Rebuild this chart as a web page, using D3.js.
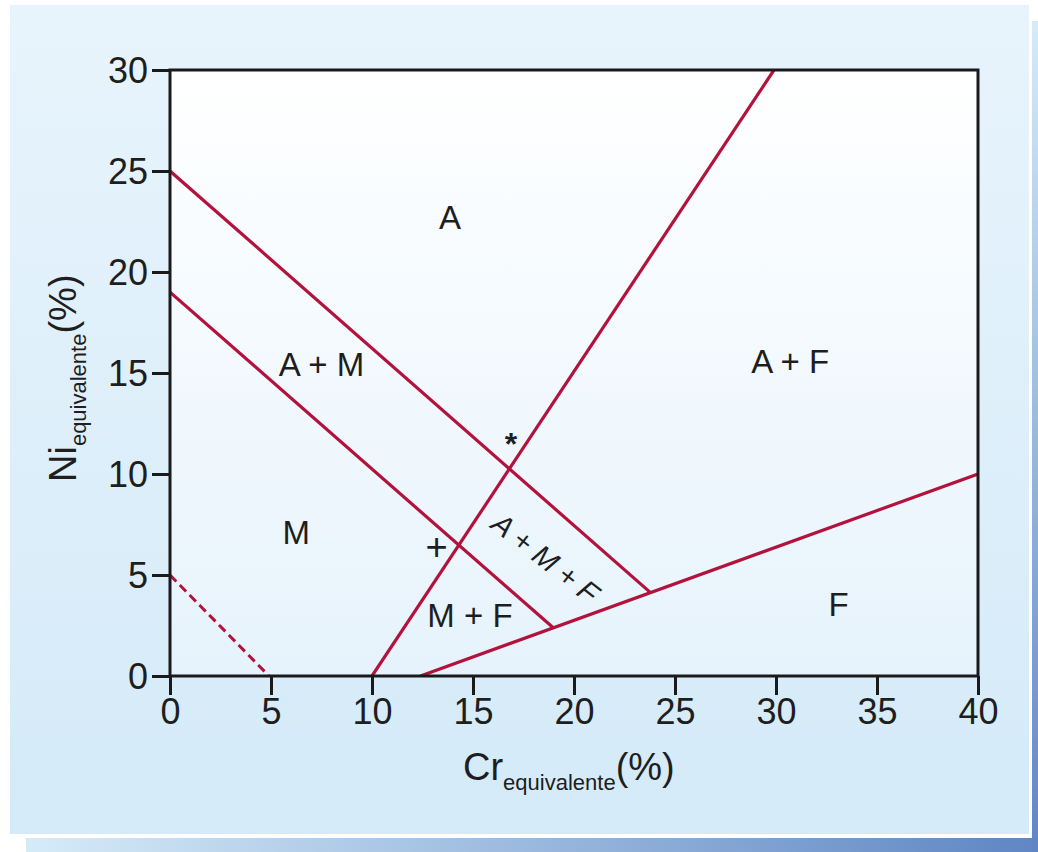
<html>
<head>
<meta charset="utf-8">
<title>Diagrama de Schaeffler</title>
<style>
  body { margin: 0; background: #ffffff; }
  svg { display: block; }
  text { font-family: 'Liberation Sans', Arial, sans-serif; fill: #1e1e1e; }
</style>
</head>
<body>
<div id="chart"></div>
<script src="https://cdnjs.cloudflare.com/ajax/libs/d3/7.8.5/d3.min.js"></script>
<script>
// Data
const xTicks = [0, 5, 10, 15, 20, 25, 30, 35, 40];
const yTicks = [0, 5, 10, 15, 20, 25, 30];

// phase boundaries, [Cr_eq, Ni_eq]
const lineAplusM = [[0, 25], [23.76, 4.15]];
const lineMart = [[0, 19], [18.96, 2.4]];
const lineFerr = [[10, 0], [29.9, 30]];
const lineF = [[12.4, 0], [40, 10]];
const lineDashed = [[0, 5], [4.9, 0]];

const regionLabels = [
  { t: "A", x: 13.86, y: 22.7 },
  { t: "A + M", x: 7.5, y: 15.45 },
  { t: "A + F", x: 30.7, y: 15.6 },
  { t: "M", x: 6.25, y: 7.1 },
  { t: "M + F", x: 14.85, y: 3.0 },
  { t: "F", x: 33.1, y: 3.55 }
];

(function () {
  const W = 1038, H = 852

  const svg = d3.select("#chart").append("svg")
    .attr("width", W)
    .attr("height", H)

  const defs = svg.append("defs")
  const g1 = defs.append("linearGradient").attr("id", "panelGrad")
    .attr("x1", 0).attr("y1", 0).attr("x2", 0).attr("y2", 1)
  g1.append("stop").attr("offset", "0%").attr("stop-color", "#e8f4fc")
  g1.append("stop").attr("offset", "100%").attr("stop-color", "#d4eaf8")

  const g2 = defs.append("linearGradient").attr("id", "plotGrad")
    .attr("x1", 0).attr("y1", 0).attr("x2", 0).attr("y2", 1)
  g2.append("stop").attr("offset", "0%").attr("stop-color", "#ffffff")
  g2.append("stop").attr("offset", "100%").attr("stop-color", "#e6f3fc")

  const g3 = defs.append("linearGradient").attr("id", "shadowR")
    .attr("x1", 0).attr("y1", 0).attr("x2", 0).attr("y2", 1)
  g3.append("stop").attr("offset", "0%").attr("stop-color", "#d6ebf8")
  g3.append("stop").attr("offset", "100%").attr("stop-color", "#5f86c4")

  const g4 = defs.append("linearGradient").attr("id", "shadowB")
    .attr("x1", 0).attr("y1", 0).attr("x2", 1).attr("y2", 0)
  g4.append("stop").attr("offset", "0%").attr("stop-color", "#d6ebf8")
  g4.append("stop").attr("offset", "100%").attr("stop-color", "#5f86c4")

  // Panel and shadow
  svg.append("rect").attr("x", 1032).attr("y", 21).attr("width", 6).attr("height", 831).attr("fill", "url(#shadowR)")
  svg.append("rect").attr("x", 26).attr("y", 838).attr("width", 1012).attr("height", 14).attr("fill", "url(#shadowB)")
  svg.append("rect").attr("x", 10).attr("y", 5).attr("width", 1019).attr("height", 829).attr("fill", "url(#panelGrad)")

  // Scales
  const x = d3.scaleLinear().domain([0, 40]).range([170, 978])
  const y = d3.scaleLinear().domain([0, 30]).range([676, 70])

  svg.append("rect")
    .attr("x", x(0)).attr("y", y(30))
    .attr("width", x(40) - x(0)).attr("height", y(0) - y(30))
    .attr("fill", "url(#plotGrad)")

  // Axes
  const xAxis = svg.append("g")
    .attr("transform", `translate(0,${y(0)})`)
    .call(d3.axisBottom(x).tickValues(xTicks).tickSize(19).tickSizeOuter(0).tickPadding(3))
  const yAxis = svg.append("g")
    .attr("transform", `translate(${x(0)},0)`)
    .call(d3.axisLeft(y).tickValues(yTicks).tickSize(18).tickSizeOuter(0).tickPadding(4))

  ;[xAxis, yAxis].forEach(a => {
    a.select(".domain").remove()
    a.selectAll(".tick line").attr("stroke", "#1a1a1a").attr("stroke-width", 3)
    a.selectAll(".tick text")
      .attr("font-family", "'Liberation Sans', Arial, sans-serif")
      .attr("font-size", 36)
      .attr("fill", "#1e1e1e")
  })
  yAxis.selectAll(".tick text").attr("dy", "0.35em")

  // Boundary lines
  const line = d3.line().x(d => x(d[0])).y(d => y(d[1]))
  const clip = defs.append("clipPath").attr("id", "plotClip")
  clip.append("rect").attr("x", x(0)).attr("y", y(30))
    .attr("width", x(40) - x(0)).attr("height", y(0) - y(30))

  const lines = svg.append("g").attr("clip-path", "url(#plotClip)")
  ;[lineAplusM, lineMart, lineFerr, lineF].forEach(pts => {
    lines.append("path")
      .attr("d", line(pts))
      .attr("fill", "none")
      .attr("stroke", "#b3123c")
      .attr("stroke-width", 3.2)
  })
  lines.append("path")
    .attr("d", line(lineDashed))
    .attr("fill", "none")
    .attr("stroke", "#b3123c")
    .attr("stroke-width", 3)
    .attr("stroke-dasharray", "9,5")

  // Frame
  svg.append("rect")
    .attr("x", x(0)).attr("y", y(30))
    .attr("width", x(40) - x(0)).attr("height", y(0) - y(30))
    .attr("fill", "none")
    .attr("stroke", "#1a1a1a")
    .attr("stroke-width", 3)

  // Region labels
  svg.selectAll(".region")
    .data(regionLabels)
    .join("text")
    .attr("class", "region")
    .attr("x", d => x(d.x))
    .attr("y", d => y(d.y))
    .attr("dy", "0.36em")
    .attr("text-anchor", "middle")
    .attr("font-size", 33)
    .text(d => d.t)

  // markers at the line crossings
  svg.append("text")
    .attr("x", x(13.2)).attr("y", y(6.4))
    .attr("dy", "0.36em")
    .attr("text-anchor", "middle")
    .attr("font-size", 38)
    .text("+")

  svg.append("text")
    .attr("x", x(16.88)).attr("y", y(11.85))
    .attr("dy", "0.58em")
    .attr("text-anchor", "middle")
    .attr("font-size", 32)
    .attr("font-weight", "bold")
    .text("*")

  svg.append("text")
    .attr("transform", `translate(${x(18.6)},${y(5.85)}) rotate(38)`)
    .attr("dy", "0.36em")
    .attr("text-anchor", "middle")
    .attr("font-size", 29)
    .attr("font-style", "italic")
    .text("A + M + F")

  // Axis titles
  const xt = svg.append("text")
    .attr("x", 463).attr("y", 780)
    .attr("font-size", 38)
  xt.append("tspan").text("Cr")
  xt.append("tspan").attr("font-size", 22).attr("dy", 10).text("equivalente")
  xt.append("tspan").attr("dy", -10).text("(%)")

  const yt = svg.append("text")
    .attr("transform", "translate(76,482) rotate(-90)")
    .attr("font-size", 38)
  yt.append("tspan").text("Ni")
  yt.append("tspan").attr("font-size", 22).attr("dy", 10).text("equivalente")
  yt.append("tspan").attr("dy", -10).text("(%)")
})()
</script>
</body>
</html>
